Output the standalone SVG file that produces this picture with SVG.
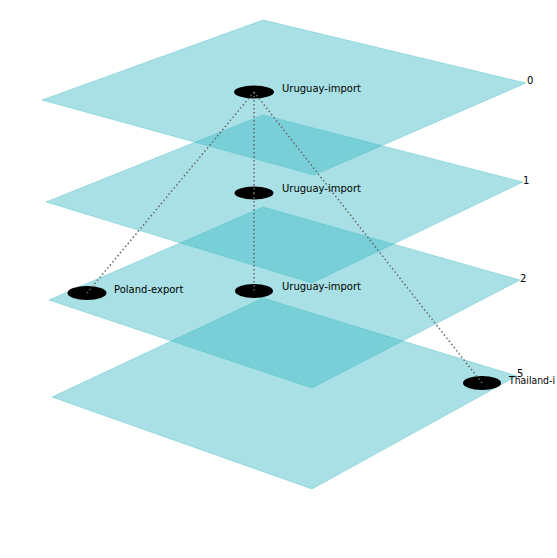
<svg xmlns="http://www.w3.org/2000/svg" width="557" height="558" viewBox="0 0 557 558">
<style>
.plane{fill:#3ebac5;fill-opacity:0.45;stroke:#3ebac5;stroke-opacity:0.35;stroke-width:1}
.node{fill:#000}
.lbl{font-family:"DejaVu Sans",sans-serif;font-size:10px;fill:#000}
.edge{stroke:#666;stroke-width:1.5;stroke-dasharray:1.5,2.5;fill:none}
</style>
<rect width="557" height="558" fill="#fff"/>
<g id="planes">
<polygon id="layer5" class="plane" points="52,397 263,298 517,376 312,489"/>
<polygon id="layer2" class="plane" points="49,300 263,207 520,280 312,388"/>
<polygon id="layer1" class="plane" points="46,202 263,115 523,182 312,283"/>
<polygon id="layer0" class="plane" points="42,100 263,20 526,83 314,175"/>
</g>
<g id="layer-labels">
<text class="lbl" x="527" y="84">0</text>
<text class="lbl" x="523" y="184">1</text>
<text class="lbl" x="520" y="282">2</text>
<text class="lbl" x="517" y="377">5</text>
</g>
<g id="n-uruguay-0"><ellipse class="node" cx="254" cy="92" rx="20" ry="6.5"/><text class="lbl" x="282" y="92">Uruguay-import</text></g>
<g id="n-uruguay-1"><ellipse class="node" cx="254" cy="193" rx="19.5" ry="6.5"/><text class="lbl" x="282" y="192">Uruguay-import</text></g>
<g id="n-uruguay-2"><ellipse class="node" cx="254" cy="291" rx="19" ry="7"/><text class="lbl" x="282" y="290">Uruguay-import</text></g>
<g id="n-poland"><ellipse class="node" cx="87" cy="293" rx="19.5" ry="7"/><text class="lbl" x="114" y="293">Poland-export</text></g>
<g id="n-thailand"><ellipse class="node" cx="482" cy="383" rx="19" ry="7"/><text class="lbl" x="509" y="384" textLength="46" lengthAdjust="spacingAndGlyphs">Thailand-i</text></g>
<g id="connectors">
<line class="edge" x1="254" y1="92" x2="254" y2="193"/>
<line class="edge" x1="254" y1="193" x2="254" y2="291"/>
<line class="edge" x1="254" y1="92" x2="87" y2="293"/>
<line class="edge" x1="254" y1="92" x2="482" y2="383"/>
</g>
</svg>
